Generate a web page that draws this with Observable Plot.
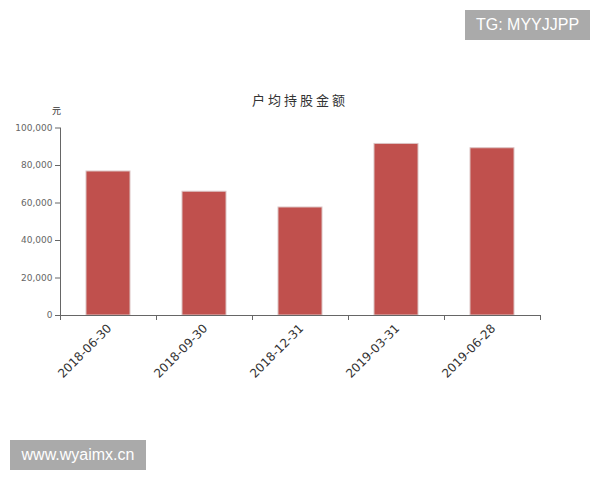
<!DOCTYPE html>
<html>
<head>
<meta charset="utf-8">
<script src="https://cdn.jsdelivr.net/npm/d3@7"></script>
<script src="https://cdn.jsdelivr.net/npm/@observablehq/plot@0.6"></script>
<style>
  html, body { margin: 0; padding: 0; background: #fff; }
  #wrap { position: relative; width: 600px; height: 480px; overflow: hidden; font-family: "Noto Sans CJK SC", "DejaVu Sans", sans-serif; }
  #title { position: absolute; left: 0; width: 600px; top: 90px; text-align: center; font-size: 13px; letter-spacing: 3px; color: #333; }
  #unit { position: absolute; left: 52px; top: 104px; font-size: 9px; color: #333; }
  .wm { position: absolute; background: #aaaaaa; color: #fff; font-family: "Liberation Sans", Arial, sans-serif; font-size: 16px; line-height: 30px; text-align: center; }
  #wm1 { left: 465px; top: 10px; width: 125px; height: 30px; }
  #wm2 { left: 10px; top: 440px; width: 136px; height: 30px; }
  #chart { position: absolute; left: 0; top: 0; }
</style>
</head>
<body>
<div id="wrap">
  <div id="chart"></div>
  <div id="title">户均持股金额</div>
  <div id="unit">元</div>
  <div class="wm" id="wm1">TG: MYYJJPP</div>
  <div class="wm" id="wm2">www.wyaimx.cn</div>
</div>
<script>
const categories = ["2018-06-30", "2018-09-30", "2018-12-31", "2019-03-31", "2019-06-28"];
const values = [76800, 66000, 57600, 91500, 89200];
const yTicks = [0, 20000, 40000, 60000, 80000, 100000];

const data = categories.map((c, i) => ({cat: c, i, value: values[i]}));
const boundaries = d3.range(categories.length + 1);

const chart = Plot.plot({
  width: 600,
  height: 480,
  marginLeft: 60,
  marginRight: 60,
  marginTop: 127.5,
  marginBottom: 165,
  style: {fontFamily: "DejaVu Sans, sans-serif", background: "transparent"},
  x: {domain: [0, categories.length], axis: null},
  y: {domain: [0, 100000], axis: null},
  marks: [
    Plot.rectY(data, {
      x1: d => d.i, x2: d => d.i + 1, y: "value",
      insetLeft: 26, insetRight: 26,
      fill: "#c0504d", stroke: "#dcc4c4", strokeWidth: 1
    }),
    Plot.axisY({
      ticks: yTicks, tickSize: 5, tickFormat: d3.format(","),
      stroke: "#666", fill: "#666", fontSize: 9, tickPadding: 3, label: null,
      style: {letterSpacing: "0.5px"}
    }),
    Plot.ruleX([0], {stroke: "#666"}),
    Plot.ruleY([0], {stroke: "#666"}),
    Plot.axisX({
      ticks: boundaries, tickSize: 5, tickFormat: () => "", stroke: "#666", label: null
    }),
    Plot.text(data, {
      x: d => d.i + 0.5, y: 0, text: "cat",
      rotate: -45, textAnchor: "end", lineAnchor: "middle",
      dx: 1, dy: 11, fontSize: 12, fill: "#333"
    })
  ]
});
document.getElementById("chart").appendChild(chart);
</script>
</body>
</html>
